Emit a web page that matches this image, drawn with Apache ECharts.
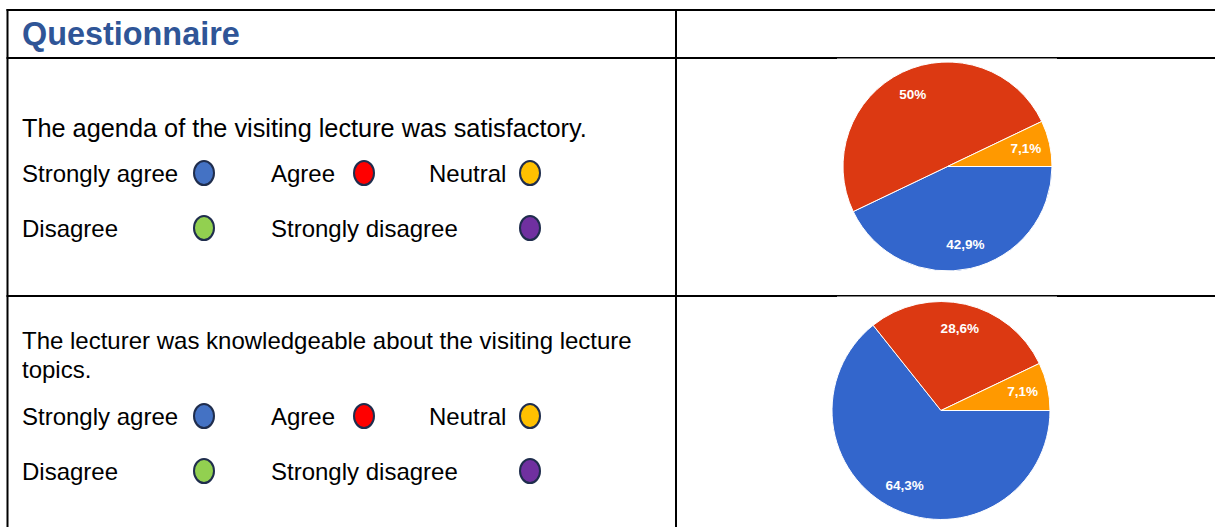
<!DOCTYPE html>
<html>
<head>
<meta charset="utf-8">
<script src="https://cdn.jsdelivr.net/npm/echarts@6/dist/echarts.min.js"></script>
<style>
  html, body { margin: 0; padding: 0; background: #ffffff; }
  #chart { width: 1215px; height: 527px; }
</style>
</head>
<body>
<div id="chart"></div>
<script>
// ---- content -------------------------------------------------------------
const tableTitle = 'Questionnaire';

// each question as printed, one entry per line
const questions = [
  ['The agenda of the visiting lecture was satisfactory.'],
  ['The lecturer was knowledgeable about the visiting lecture', 'topics.']
];

// answer scale printed under each question
const answerLabels = ['Strongly agree', 'Agree', 'Neutral', 'Disagree', 'Strongly disagree'];
const answerColors = ['#4472C4', '#FF0000', '#FFC000', '#92D050', '#7030A0'];

// answers that were actually given (pie slices, clockwise from 3 o'clock)
const sliceNames = ['Strongly agree', 'Agree', 'Neutral'];
const sliceColors = ['#3366CC', '#DC3912', '#FF9900'];
const agendaShares = [42.9, 50, 7.1];     // percent
const lecturerShares = [64.3, 28.6, 7.1]; // percent

// ---- layout --------------------------------------------------------------
const FONT = '"Liberation Sans", Arial, Helvetica, sans-serif';
const BODY_SIZE = 24;
const LINE = '#000000';

// per question row: first text line centre/size, two legend row centres, pie centre/radius, white backing box
const rows = [
  { textY: 128, textSize: 25.3, legendY: [173, 228], pie: [947.5, 166.5], r: 104.5, cover: [837, 58.5, 220, 232] },
  { textY: 340, textSize: 24,   legendY: [416, 471], pie: [941, 410.5], r: 109,   cover: [837, 296.5, 220, 231] }
];
const LINE_GAP = 29;
// legend slots: [label x, ellipse centre x] for each answer
const slots = [[22, 204], [271, 364], [429, 530], [22, 204], [271, 530]];
const slotRow = [0, 0, 0, 1, 1];

function rect(x, y, w, h, fill, z2) {
  return { type: 'rect', silent: true, z2: z2, shape: { x: x, y: y, width: w, height: h }, style: { fill: fill } };
}
function label(text, x, y, extra) {
  return {
    type: 'text', silent: true, z2: 5,
    style: Object.assign({
      text: text, x: x, y: y, font: BODY_SIZE + 'px ' + FONT, fill: '#000000',
      textAlign: 'left', textVerticalAlign: 'middle'
    }, extra || {})
  };
}

const elements = [];
// table rules
elements.push(rect(6.5, 9, 1208.5, 2, LINE, 1));
elements.push(rect(6.5, 57, 1208.5, 2, LINE, 1));
elements.push(rect(6.5, 295, 1208.5, 2, LINE, 1));
elements.push(rect(6.5, 9, 2, 518, LINE, 1));
elements.push(rect(675, 9, 2, 518, LINE, 1));

// header
elements.push(label(tableTitle, 22, 34, { font: 'bold 32.4px ' + FONT, fill: '#2F5597' }));

rows.forEach(function (row, qi) {
  const c = row.cover;
  elements.push(rect(c[0], c[1], c[2], c[3], '#ffffff', 2));
  questions[qi].forEach(function (lineText, li) {
    elements.push(label(lineText, 22, row.textY + li * LINE_GAP, { font: row.textSize + 'px ' + FONT }));
  });
  answerLabels.forEach(function (name, ai) {
    const y = row.legendY[slotRow[ai]];
    elements.push(label(name, slots[ai][0], y));
    elements.push({
      type: 'ellipse', silent: true, z2: 5,
      shape: { cx: slots[ai][1], cy: y, rx: 10, ry: 12 },
      style: { fill: answerColors[ai], stroke: '#1F2D4D', lineWidth: 2 }
    });
  });
});

// ---- pies ----------------------------------------------------------------
function sliceData(values) {
  return values.map(function (v, i) {
    return { name: sliceNames[i], value: v, itemStyle: { color: sliceColors[i] } };
  });
}
function pctText(p) {
  return String(p.value).replace('.', ',') + '%';
}

const series = [];
[agendaShares, lecturerShares].forEach(function (values, qi) {
  const row = rows[qi];
  // filled slices
  series.push({
    type: 'pie', center: row.pie, radius: [0, row.r],
    startAngle: 0, clockwise: true, animation: false, silent: true,
    itemStyle: { borderColor: '#ffffff', borderWidth: 1 },
    label: { show: false }, labelLine: { show: false },
    emphasis: { disabled: true },
    data: sliceData(values)
  });
  // transparent outer ring carrying the percentage labels
  series.push({
    type: 'pie', center: row.pie, radius: [row.r * 0.48, row.r],
    startAngle: 0, clockwise: true, animation: false, silent: true,
    itemStyle: { color: 'rgba(0,0,0,0)', borderWidth: 0 },
    label: {
      show: true, position: 'inside', formatter: pctText,
      color: '#ffffff', fontSize: 13.5, fontWeight: 'bold', fontFamily: FONT
    },
    labelLine: { show: false },
    emphasis: { disabled: true },
    data: values.map(function (v, i) { return { name: sliceNames[i], value: v }; })
  });
});

const chart = echarts.init(document.getElementById('chart'), null, { renderer: 'svg' });
chart.setOption({
  backgroundColor: '#ffffff',
  animation: false,
  graphic: { elements: elements },
  series: series
});
</script>
</body>
</html>
